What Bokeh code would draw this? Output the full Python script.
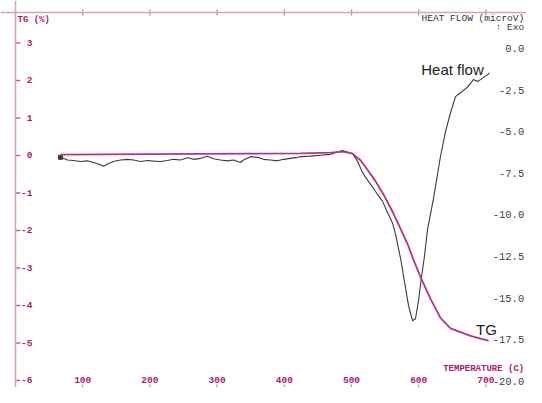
from bokeh.plotting import figure
from bokeh.models import Range1d, Span
from bokeh.core.properties import value
from bokeh.embed import file_html
from bokeh.resources import INLINE
import math

# ---------------- data ----------------
# TG curve: temperature (C) vs mass change (%)
tg_temp = [67.0, 200.9, 349.7, 424.1, 468.8, 488.1, 501.5, 513.4, 523.8, 535.7,
           547.6, 561.0, 572.9, 583.3, 592.3, 602.7, 617.6, 632.4, 647.3, 662.2,
           677.1, 692.0, 703.9]
tg_mass = [0.025, 0.038, 0.051, 0.058, 0.076, 0.101, 0.051, -0.127, -0.380, -0.684,
           -1.038, -1.494, -1.949, -2.354, -2.785, -3.241, -3.823, -4.329, -4.608, -4.709,
           -4.810, -4.886, -4.937]

# Heat flow curve: temperature (C) vs heat flow (microV)
hf_temp = [67.0, 77.4, 86.3, 96.7, 107.1, 116.1, 126.5, 131.0, 136.9, 145.8,
           156.3, 166.7, 175.6, 186.0, 196.4, 205.4, 215.8, 226.2, 235.1, 245.5,
           256.0, 264.9, 275.3, 285.7, 294.6, 305.1, 315.5, 324.4, 334.8, 339.3,
           349.7, 360.1, 369.0, 379.5, 389.9, 398.8, 409.2, 419.6, 424.1, 439.0,
           453.9, 468.8, 479.2, 486.6, 494.0, 501.5, 508.9, 516.4, 523.8, 531.3,
           538.7, 546.1, 553.6, 561.0, 565.5, 572.9, 578.9, 584.8, 590.8, 595.2,
           599.7, 604.2, 608.6, 613.1, 622.0, 632.4, 639.9, 647.3, 654.8, 662.2,
           672.6, 681.5, 687.5, 692.0, 697.9, 702.4, 705.4]
hf_flow = [-6.54, -6.70, -6.73, -6.79, -6.75, -6.85, -6.98, -7.07, -6.94, -6.79,
           -6.70, -6.66, -6.70, -6.79, -6.73, -6.77, -6.79, -6.73, -6.66, -6.70,
           -6.56, -6.66, -6.60, -6.47, -6.62, -6.70, -6.75, -6.70, -6.85, -6.70,
           -6.50, -6.54, -6.66, -6.70, -6.75, -6.66, -6.60, -6.54, -6.50, -6.47,
           -6.41, -6.36, -6.22, -6.13, -6.22, -6.32, -6.77, -7.46, -7.91, -8.31,
           -8.77, -9.17, -9.85, -10.48, -11.16, -12.59, -14.02, -15.44, -16.36, -16.24,
           -15.16, -13.73, -12.48, -10.88, -9.02, -6.49, -5.00, -3.86, -2.89, -2.66,
           -2.32, -1.87, -1.98, -1.87, -1.69, -1.58, -1.47]

# tick values and labels
temp_ticks = [100, 200, 300, 400, 500, 600, 700]
temp_labels = ["100", "200", "300", "400", "500", "600", "700"]
tg_ticks = [3, 2, 1, 0, -1, -2, -3, -4, -5, -6]
tg_labels = ["3", "2", "1", "0", "-1", "-2", "-3", "-4", "-5", "-6"]
hf_ticks = [0.0, -2.5, -5.0, -7.5, -10.0, -12.5, -15.0, -17.5, -20.0]
hf_labels = ["0.0", "-2.5", "-5.0", "-7.5", "-10.0", "-12.5", "-15.0", "-17.5", "-20.0"]

# ---------------- figure ----------------
X0, X1 = -22.3, 760.4
Y0, Y1 = -6.187, 4.133
TOP_V = 3.813
RIGHT_T = 757.0
p = figure(width=526, height=387, output_backend="svg", toolbar_location=None,
           x_range=Range1d(X0, X1), y_range=Range1d(Y0, Y1),
           x_axis_location=None, y_axis_location=None,
           min_border=0, outline_line_color=None, background_fill_color="white")
p.extra_y_ranges = {"hf": Range1d(-20.37, 2.884)}
p.grid.grid_line_color = None

MAG = "#b0186f"
AXC = "#d4a2c4"
mono = value("Liberation Mono")

# frame lines (left and top)
p.add_layout(Span(location=0, dimension="height", line_color=AXC, line_width=1.6))
p.add_layout(Span(location=TOP_V, dimension="width", line_color="#c9a6bd", line_width=1.4))

# tick marks
p.scatter(x=temp_ticks, y=[TOP_V] * len(temp_ticks), marker="dash", angle=math.pi / 2,
          size=6, line_color="#b890ab", line_width=1.3)
p.scatter(x=temp_ticks, y=[Y0] * len(temp_ticks), marker="dash", angle=math.pi / 2,
          size=6, line_color="#b890ab", line_width=1.3)
p.scatter(x=[3.5] * len(tg_ticks), y=tg_ticks, marker="dash", size=5,
          line_color="#b06a98", line_width=1.3)

# tick labels (inside frame, like the plotter output)
p.text(x=[25.3] * len(tg_ticks), y=tg_ticks, text=tg_labels, text_align="right",
       text_baseline="middle", text_font=mono, text_font_style="bold",
       text_font_size="9.5px", text_color=MAG)
p.text(x=temp_ticks, y=[-5.98] * len(temp_ticks), text=temp_labels, text_align="center",
       text_baseline="middle", text_font=mono, text_font_style="bold",
       text_font_size="9.5px", text_color=MAG)
p.text(x=[RIGHT_T] * len(hf_ticks), y=hf_ticks, text=hf_labels, text_align="right",
       text_baseline="middle", text_font=mono, text_font_size="10.5px",
       text_color="#404040", y_range_name="hf")

# axis titles
p.text(x=[3.0], y=[3.60], text=["TG (%)"], text_align="left", text_baseline="middle",
       text_font=mono, text_font_style="bold", text_font_size="9px", text_color=MAG)
p.text(x=[RIGHT_T], y=[3.653], text=["HEAT FLOW (microV)"], text_align="right",
       text_baseline="middle", text_font=mono, text_font_size="9.5px", text_color="#333333")
p.text(x=[RIGHT_T], y=[3.40], text=["\u2191 Exo"], text_align="right",
       text_baseline="middle", text_font=mono, text_font_size="9.5px", text_color="#333333")
p.text(x=[RIGHT_T], y=[-5.70], text=["TEMPERATURE (C)"], text_align="right",
       text_baseline="middle", text_font=mono, text_font_style="bold",
       text_font_size="9px", text_color=MAG)

# curves
GRAY = "#3a3a3a"
p.line(hf_temp, hf_flow, line_color=GRAY, line_width=1.1, y_range_name="hf")
p.scatter(hf_temp[:1], hf_flow[:1], marker="square", size=4, fill_color=GRAY,
          line_color=GRAY, y_range_name="hf")
p.line(tg_temp, tg_mass, line_color="#b8308c", line_width=1.8)

# curve annotations
sans = value("Liberation Sans")
p.text(x=[650.3], y=[2.29], text=["Heat flow"], text_align="center", text_baseline="middle",
       text_font=sans, text_font_size="15px", text_color="#222222")
p.text(x=[700.9], y=[-4.65], text=["TG"], text_align="center", text_baseline="middle",
       text_font=sans, text_font_size="15px", text_color="#222222")

open("out.html", "w").write(file_html(p, INLINE))
